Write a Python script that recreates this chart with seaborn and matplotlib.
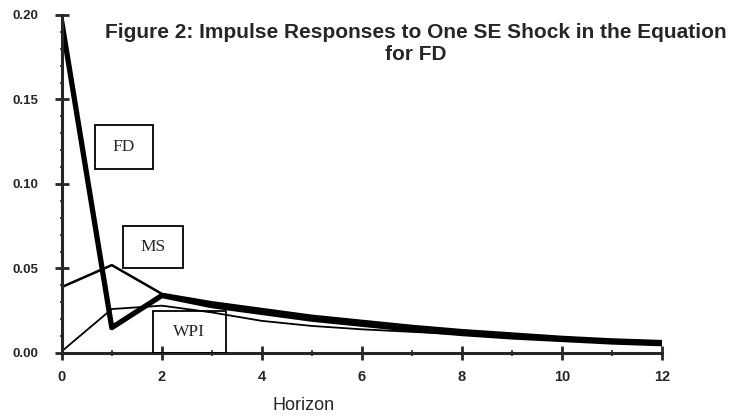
import pandas as pd
import matplotlib.pyplot as plt
import seaborn as sns
from matplotlib.patches import Rectangle
from matplotlib.ticker import MultipleLocator, FormatStrFormatter

# impulse responses
horizon = list(range(13))
fd = [0.196, 0.015, 0.034, 0.028, 0.024, 0.020, 0.017, 0.014, 0.0115, 0.0095, 0.008, 0.0065, 0.0055]
ms = [0.039, 0.052, 0.035, 0.030, 0.026, 0.022, 0.019, 0.016, 0.0135, 0.0115, 0.0095, 0.008, 0.007]
wpi = [0.001, 0.026, 0.028, 0.024, 0.019, 0.016, 0.014, 0.0125, 0.011, 0.009, 0.008, 0.0065, 0.0055]

df = pd.DataFrame({'Horizon': horizon, 'FD': fd, 'MS': ms, 'WPI': wpi})

sns.set_style('ticks')
plt.rcParams['font.family'] = ['Liberation Sans', 'DejaVu Sans']

fig = plt.figure(figsize=(7.44, 4.17), dpi=100)
ax = fig.add_axes([0.083, 0.1535, 0.807, 0.8106])

sns.lineplot(data=df, x='Horizon', y='FD', color='black', linewidth=3.8, ax=ax)
sns.lineplot(data=df, x='Horizon', y='MS', color='black', linewidth=1.8, ax=ax)
sns.lineplot(data=df, x='Horizon', y='WPI', color='black', linewidth=1.3, ax=ax)

ax.xaxis.set_major_locator(MultipleLocator(2))
ax.xaxis.set_minor_locator(MultipleLocator(1))
ax.yaxis.set_major_locator(MultipleLocator(0.05))
ax.yaxis.set_minor_locator(MultipleLocator(0.01))
ax.yaxis.set_major_formatter(FormatStrFormatter('%.2f'))
ax.set_xlim(0, 12)
ax.set_ylim(0, 0.20)

for side in ['top', 'right']:
    ax.spines[side].set_visible(False)
for side in ['left', 'bottom']:
    ax.spines[side].set_linewidth(2.2)
ax.tick_params(which='major', direction='inout', length=10, width=2)
ax.tick_params(axis='x', which='major', labelsize=10.5, pad=7)
ax.tick_params(axis='y', which='major', labelsize=9.5, pad=12)
ax.tick_params(which='minor', direction='inout', length=5, width=1.2)
ax.tick_params(axis='y', which='minor', length=3)
for lab in ax.get_xticklabels() + ax.get_yticklabels():
    lab.set_fontweight('bold')

ax.set_xlabel('Horizon', fontsize=13)
ax.xaxis.set_label_coords(0.403, -0.156)
ax.xaxis.label.set_va('center')
ax.set_ylabel('')

# series labels in boxes
labels = [('FD', 0.66, 0.109, 1.16, 0.026),
          ('MS', 1.22, 0.050, 1.20, 0.025),
          ('WPI', 1.82, 0.0, 1.46, 0.0247)]
for name, x0, y0, w, h in labels:
    ax.add_patch(Rectangle((x0, y0), w, h, fill=False, edgecolor='black', linewidth=1.3, zorder=5))
    ax.text(x0 + w / 2, y0 + h / 2, name, ha='center', va='center', fontsize=12.5,
            family=['Liberation Serif', 'DejaVu Serif'], zorder=6)

fig.text(0.559, 0.945, 'Figure 2: Impulse Responses to One SE Shock in the Equation\nfor FD',
         ha='center', va='top', fontsize=15, fontweight='bold', linespacing=1.2)

fig.savefig('out.png', dpi=100)
